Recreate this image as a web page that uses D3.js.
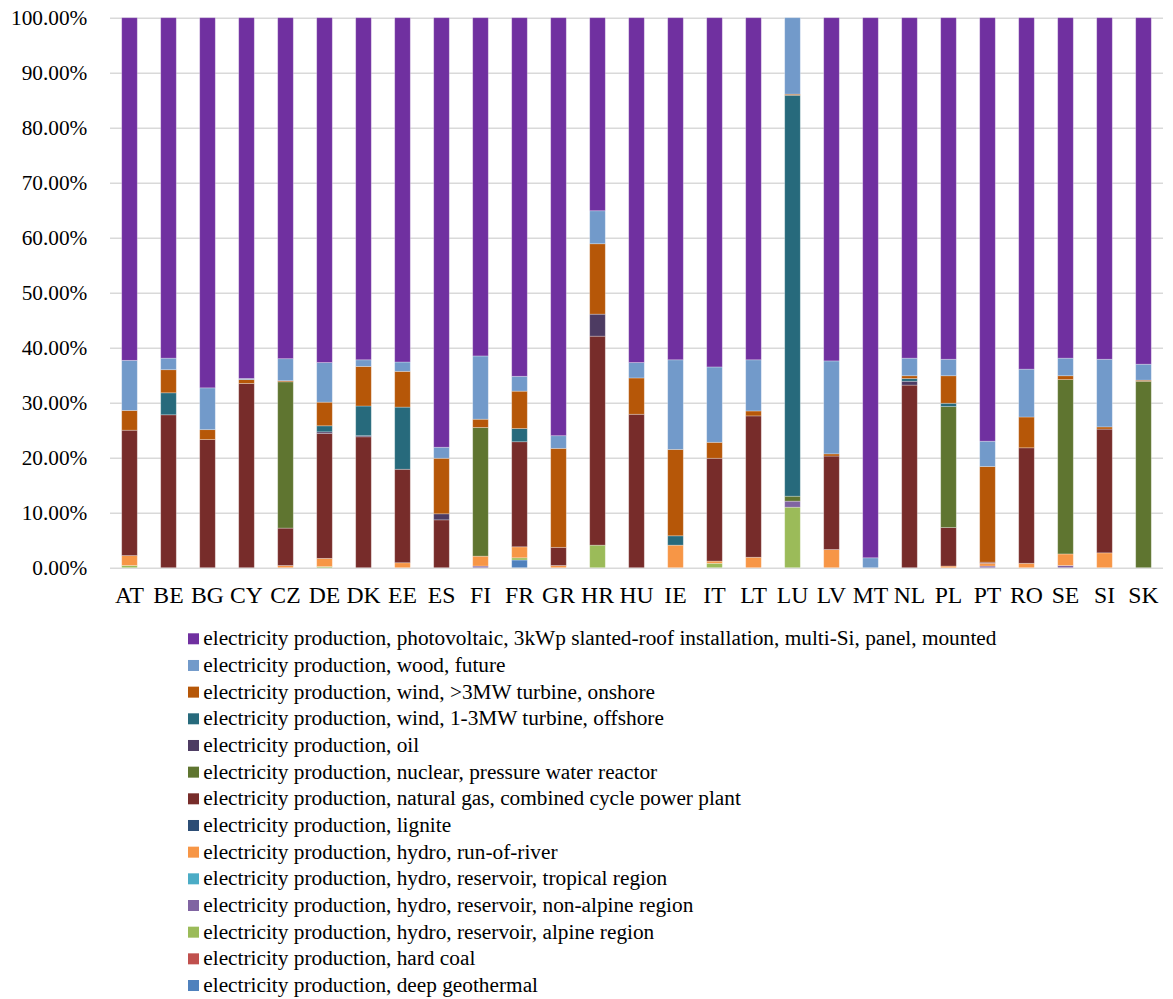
<!DOCTYPE html>
<html>
<head>
<meta charset="utf-8">
<script src="https://cdn.jsdelivr.net/npm/d3@7"></script>
<style>
  body { margin: 0; background: #ffffff; }
</style>
</head>
<body>
<script>
const [width, height] = [1173, 999];

const margin = ({top: 17.7, right: 10, bottom: 431.3, left: 110});

const fontFamily = 'Liberation Serif';

const countries = ['AT','BE','BG','CY','CZ','DE','DK','EE','ES','FI','FR','GR','HR','HU','IE','IT','LT','LU','LV','MT','NL','PL','PT','RO','SE','SI','SK'];

// shares in percent, one value per country (same order as countries)
const geothermal = [0,0,0,0,0,0,0,0,0,0,1.4,0,0,0,0,0,0,0,0,0,0,0,0,0,0,0,0];
const hardCoal   = [0,0,0,0,0,0,0,0,0,0,0,0,0,0,0,0,0,0,0,0,0,0,0,0,0,0,0];
const hydroAlpine = [0.4,0,0,0,0,0.2,0,0,0,0,0.4,0,4.1,0,0,0.8,0,11.0,0,0,0,0,0,0,0,0,0];
const hydroNonAlpine = [0,0,0,0,0,0,0,0,0,0.3,0,0,0,0,0,0,0,1.1,0,0,0,0,0.3,0,0.4,0,0];
const hydroTropical = [0,0,0,0,0,0,0,0,0,0,0,0,0,0,0,0,0,0,0,0,0,0,0,0,0,0,0];
const hydroRiver = [1.8,0,0,0,0.4,1.5,0,0.9,0,1.8,2.0,0.4,0,0,4.1,0.4,1.9,0,3.3,0,0,0.3,0.5,0.8,2.1,2.7,0];
const lignite = [0,0,0,0,0,0,0,0,0,0,0,0,0,0,0,0,0,0,0,0,0,0,0,0,0,0,0];
const naturalGas = [22.8,27.8,23.3,33.5,6.8,22.7,23.8,17.0,8.7,0,19.1,3.3,38.0,27.9,0,18.7,25.7,0,17.0,0,33.2,7.0,0.2,21.0,0,22.5,0];
const nuclear = [0,0,0,0,26.6,0,0,0,0,23.4,0,0,0,0,0,0,0,0.9,0,0,0,22.0,0,0,31.7,0,33.9];
const oil = [0,0,0,0,0,0.3,0.2,0,1.1,0,0,0,4.0,0,0,0,0,0,0,0,0.7,0,0,0,0,0,0];
const windOffshore = [0,4.0,0,0,0,1.1,5.4,11.3,0,0,2.4,0,0,0,1.7,0,0,72.9,0,0,0.5,0.6,0,0,0,0,0];
const windOnshore = [3.6,4.2,1.8,0.7,0.2,4.3,7.2,6.5,10.1,1.5,6.8,18.0,12.8,6.6,15.7,2.9,0.9,0.2,0.4,0,0.5,5.0,17.4,5.6,0.7,0.4,0.2];
const wood = [9.1,2.1,7.6,0.2,4.0,7.2,1.2,1.7,2.0,11.5,2.7,2.3,6.0,2.8,16.3,13.7,9.3,13.9,16.9,1.8,3.2,3.0,4.6,8.7,3.2,12.3,2.9];
const photovoltaic = [62.3,61.9,67.3,65.6,62.0,62.7,62.2,62.6,78.1,61.5,65.2,76.0,35.1,62.7,62.2,63.5,62.2,0,62.4,98.2,61.9,62.1,77.0,63.9,61.9,62.1,63.0];

// bottom to top
const seriesNames = [
    'electricity production, deep geothermal',
    'electricity production, hard coal',
    'electricity production, hydro, reservoir, alpine region',
    'electricity production, hydro, reservoir, non-alpine region',
    'electricity production, hydro, reservoir, tropical region',
    'electricity production, hydro, run-of-river',
    'electricity production, lignite',
    'electricity production, natural gas, combined cycle power plant',
    'electricity production, nuclear, pressure water reactor',
    'electricity production, oil',
    'electricity production, wind, 1-3MW turbine, offshore',
    'electricity production, wind, >3MW turbine, onshore',
    'electricity production, wood, future',
    'electricity production, photovoltaic, 3kWp slanted-roof installation, multi-Si, panel, mounted',
];
const seriesValues = [geothermal, hardCoal, hydroAlpine, hydroNonAlpine, hydroTropical, hydroRiver,
    lignite, naturalGas, nuclear, oil, windOffshore, windOnshore, wood, photovoltaic];
const seriesColors = ['#4f81bd','#c0504d','#9bbb59','#8064a2','#4bacc6','#f79646',
    '#2c4d75','#772c2a','#5f7530','#4d3b62','#276a7c','#b65708','#729aca','#7030a0'];

const yTicks = [0, 0.1, 0.2, 0.3, 0.4, 0.5, 0.6, 0.7, 0.8, 0.9, 1];

const rows = countries.map((c, i) => {
    const r = {country: c};
    seriesNames.forEach((s, j) => { r[s] = seriesValues[j][i] / 100; });
    return r;
});

const stacked = d3.stack().keys(seriesNames)(rows);

// small serif text renders badly here, so draw it at double size and scale it down
const serifText = (sel, size) => sel.each(function() {
    const t = d3.select(this);
    const tx = +t.attr('x') || 0;
    const ty = +t.attr('y') || 0;
    t.attr('x', null).attr('y', null)
        .attr('transform', `translate(${tx},${ty}) scale(0.5)`)
        .attr('font-family', fontFamily)
        .attr('font-size', size * 2)
        .attr('fill', '#000');
});

const svg = d3.select('body').append('svg')
    .attr('width', width)
    .attr('height', height)
    .attr('viewBox', [0, 0, width, height]);

const x = d3.scaleBand()
    .domain(countries)
    .range([margin.left, width - margin.right])
    .paddingInner(0.6)
    .paddingOuter(0.3);

const y = d3.scaleLinear()
    .domain([0, 1])
    .range([height - margin.bottom, margin.top]);

const yAxis = (g) => g
    .attr('transform', `translate(${margin.left},0)`)
    .call(d3.axisLeft(y).tickValues(yTicks).tickFormat(d3.format('.2%'))
        .tickSize(-(width - margin.left - margin.right)).tickPadding(22.7))
    .call(g => g.select('.domain').remove())
    .call(g => g.selectAll('.tick line').attr('stroke', '#d9d9d9').attr('stroke-width', 1.6))
    .call(g => serifText(g.selectAll('.tick text'), 21.3));

const xAxis = (g) => g
    .attr('transform', `translate(0,${height - margin.bottom})`)
    .call(d3.axisBottom(x).tickSize(0).tickPadding(18.3))
    .call(g => g.select('.domain').remove())
    .call(g => serifText(g.selectAll('.tick text'), 23.7));

svg.append('g').call(yAxis);

svg.append('g')
    .selectAll('g')
    .data(stacked)
    .join('g')
        .attr('fill', (d, i) => seriesColors[i])
    .selectAll('rect')
    .data(d => d.filter(p => p[1] - p[0] > 0))
    .join('rect')
        .attr('x', d => x(d.data.country))
        .attr('y', d => y(d[1]))
        .attr('width', x.bandwidth())
        .attr('height', d => y(d[0]) - y(d[1]))
        .attr('stroke', '#ffffff')
        .attr('stroke-opacity', 0.35)
        .attr('stroke-width', 0.8);

svg.append('g').call(xAxis);

// legend, top entry is the top of the stack
const legendItems = seriesNames.map((s, i) => ({name: s, color: seriesColors[i]})).reverse();

const legendRow = svg.append('g')
    .selectAll('g')
    .data(legendItems)
    .join('g')
        .attr('transform', (d, i) => `translate(188,${638.8 + i * 26.67})`);

legendRow.append('rect')
    .attr('x', 0)
    .attr('y', -5.5)
    .attr('width', 11)
    .attr('height', 11)
    .attr('fill', d => d.color);

legendRow.append('text')
    .attr('x', 15.3)
    .attr('y', 6.5)
    .text(d => d.name)
    .call(sel => serifText(sel, 21.3));
</script>
</body>
</html>
